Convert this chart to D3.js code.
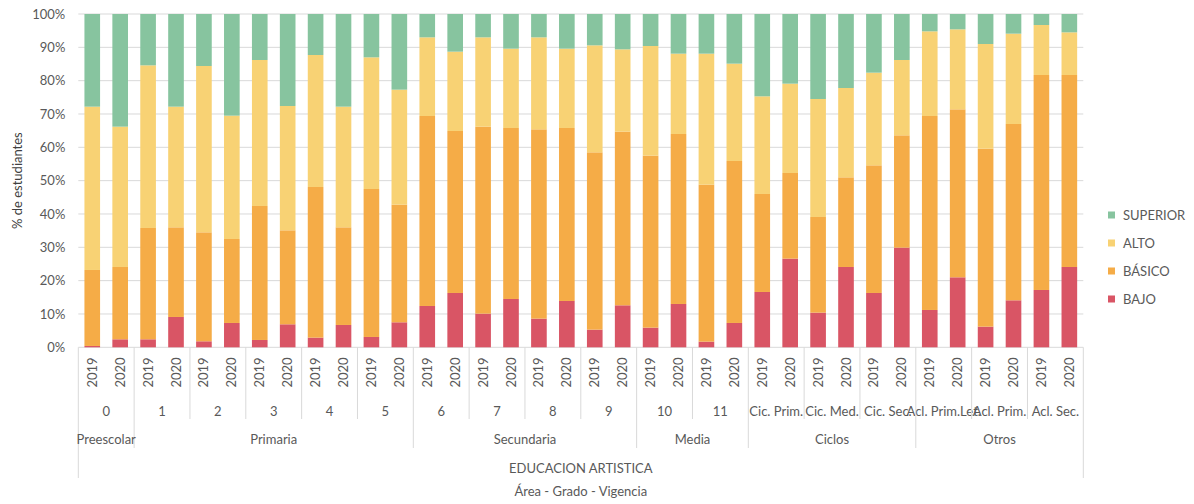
<!DOCTYPE html>
<html><head><meta charset="utf-8">
<script src="https://cdn.jsdelivr.net/npm/d3@7"></script>
<style>body{margin:0;background:#fff;} svg{display:block;font-family:Lato,"Open Sans",sans-serif;}</style>
</head><body>
<svg id="chart" width="1194" height="504"></svg>
<script>
const grades = ["0","1","2","3","4","5","6","7","8","9","10","11","Cic. Prim.","Cic. Med.","Cic. Sec.","Acl. Prim.Let.","Acl. Prim.","Acl. Sec."];
const levelNames = ["Preescolar","Primaria","Secundaria","Media","Ciclos","Otros"];
const levelGradeCounts = [1,5,4,2,3,3];
const years = ["2019","2020"];
const seriesNames = ["BAJO","BÁSICO","ALTO","SUPERIOR"];
const bajo     = [0.4,2.4, 2.4,9.1, 1.8,7.3, 2.2,6.9, 2.9,6.7, 3.1,7.5, 12.4,16.3, 10.1,14.5, 8.6,13.9, 5.3,12.6, 5.9,13.0, 1.7,7.3, 16.6,26.6, 10.4,24.1, 16.3,29.9, 11.2,21.0, 6.2,14.1, 17.2,24.1];
const basico   = [22.8,21.7, 33.4,26.9, 32.7,25.2, 40.2,28.2, 45.2,29.3, 44.4,35.3, 57.0,48.6, 56.1,51.3, 56.8,51.9, 53.2,52.1, 51.6,51.0, 47.1,48.6, 29.4,25.7, 28.7,26.9, 38.3,33.7, 58.2,50.4, 53.4,52.9, 64.5,57.6];
const alto     = [49.0,42.1, 48.8,36.2, 49.9,37.0, 43.8,37.3, 39.6,36.2, 39.5,34.5, 23.6,23.8, 26.8,23.8, 27.6,23.8, 32.1,24.7, 32.9,24.1, 39.3,29.2, 29.3,26.8, 35.4,26.8, 27.8,22.6, 25.4,24.0, 31.4,27.1, 15.0,12.8];
const superior = [27.8,33.8, 15.4,27.8, 15.6,30.5, 13.8,27.6, 12.3,27.8, 13.0,22.7, 7.0,11.3, 7.0,10.4, 7.0,10.4, 9.4,10.6, 9.6,11.9, 11.9,14.9, 24.7,20.9, 25.5,22.2, 17.6,13.8, 5.2,4.6, 9.0,5.9, 3.3,5.5];
const yTicks = [0,10,20,30,40,50,60,70,80,90,100];
const colors = {"BAJO":"#D95565","BÁSICO":"#F5AC47","ALTO":"#F8D274","SUPERIOR":"#87C49F"};

const table = [];
grades.forEach((g,gi)=>years.forEach((yr,yi)=>{
  const i = gi*2+yi;
  table.push({idx:i, grade:g, year:yr, "BAJO":bajo[i], "BÁSICO":basico[i], "ALTO":alto[i], "SUPERIOR":superior[i]});
}));

const svg = d3.select("#chart");
const pLeft = 78.3, pRight = 1083.3, pTop = 14, pBottom = 347.3;
const x = d3.scaleBand().domain(table.map(d=>d.idx)).range([pLeft,pRight]).paddingInner(0.44).paddingOuter(0.22);
const y = d3.scaleLinear().domain([0,100]).range([pBottom,pTop]);
const grid = "#d9d9d9", txt = "#595959";

// gridlines
svg.append("g").selectAll("line").data(yTicks).join("line")
  .attr("x1",pLeft).attr("x2",pRight).attr("y1",d=>y(d)).attr("y2",d=>y(d))
  .attr("stroke",grid).attr("stroke-width",1);

// y tick labels
const yAxis = d3.axisLeft(y).tickValues(yTicks).tickFormat(d=>d+"%").tickSize(0).tickPadding(0);
const ga = svg.append("g").attr("transform",`translate(${pLeft-13},0)`).call(yAxis);
ga.select(".domain").remove();
ga.selectAll("text").attr("font-size",13).attr("fill",txt).attr("font-family","Lato");

// y title
svg.append("text").attr("transform",`translate(22,${(pTop+pBottom)/2}) rotate(-90)`)
  .attr("text-anchor","middle").attr("font-size",13).attr("fill","#404040").text("% de estudiantes");

// stacked bars
const stack = d3.stack().keys(seriesNames)(table);
svg.append("g").selectAll("g").data(stack).join("g").attr("fill",d=>colors[d.key])
  .selectAll("rect").data(d=>d).join("rect")
  .attr("x",d=>x(d.data.idx)).attr("width",x.bandwidth())
  .attr("y",d=>y(d[1])).attr("height",d=>y(d[0])-y(d[1]));

// category axis
const step = x.step();
const gx = svg.append("g");
table.forEach(d=>{
  const cx = x(d.idx)+x.bandwidth()/2;
  gx.append("text").attr("transform",`translate(${cx+4.5},372.5) rotate(-90)`)
    .attr("text-anchor","middle").attr("font-size",13).attr("fill",txt).text(d.year);
});
const levelBoundaries = new Set();
let acc = 0; levelGradeCounts.forEach(c=>{acc+=c; levelBoundaries.add(acc);});
grades.forEach((g,gi)=>{
  const cx = (x(gi*2) + x(gi*2+1) + x.bandwidth())/2;
  gx.append("text").attr("x",cx).attr("y",416).attr("text-anchor","middle")
    .attr("font-size",13).attr("fill",txt).text(g);
});
for(let b=0;b<=grades.length;b++){
  const xb = pLeft + b*2*step;
  let yEnd = 419;
  if(b===0||b===grades.length) yEnd = 478;
  else if(levelBoundaries.has(b)) yEnd = 448;
  gx.append("line").attr("x1",xb).attr("x2",xb).attr("y1",pBottom).attr("y2",yEnd)
    .attr("stroke",grid).attr("stroke-width",1);
}
let start = 0;
levelNames.forEach((n,li)=>{
  const cnt = levelGradeCounts[li];
  const cx = pLeft + (start + cnt/2)*2*step;
  gx.append("text").attr("x",cx).attr("y",444).attr("text-anchor","middle")
    .attr("font-size",13).attr("fill",txt).text(n);
  start += cnt;
});
svg.append("text").attr("x",(pLeft+pRight)/2).attr("y",473).attr("text-anchor","middle")
  .attr("font-size",13).attr("fill",txt).text("EDUCACION ARTISTICA");
svg.append("text").attr("x",(pLeft+pRight)/2).attr("y",496).attr("text-anchor","middle")
  .attr("font-size",13).attr("fill",txt).text("Área - Grado - Vigencia");

// legend
const legendOrder = ["SUPERIOR","ALTO","BÁSICO","BAJO"];
const lg = svg.append("g");
legendOrder.forEach((k,i)=>{
  const cy = 215 + i*28;
  lg.append("rect").attr("x",1108).attr("y",cy-3.5).attr("width",7).attr("height",7).attr("fill",colors[k]);
  lg.append("text").attr("x",1123).attr("y",cy+4.5).attr("font-size",13).attr("fill",txt).text(k);
});
</script>
</body></html>
